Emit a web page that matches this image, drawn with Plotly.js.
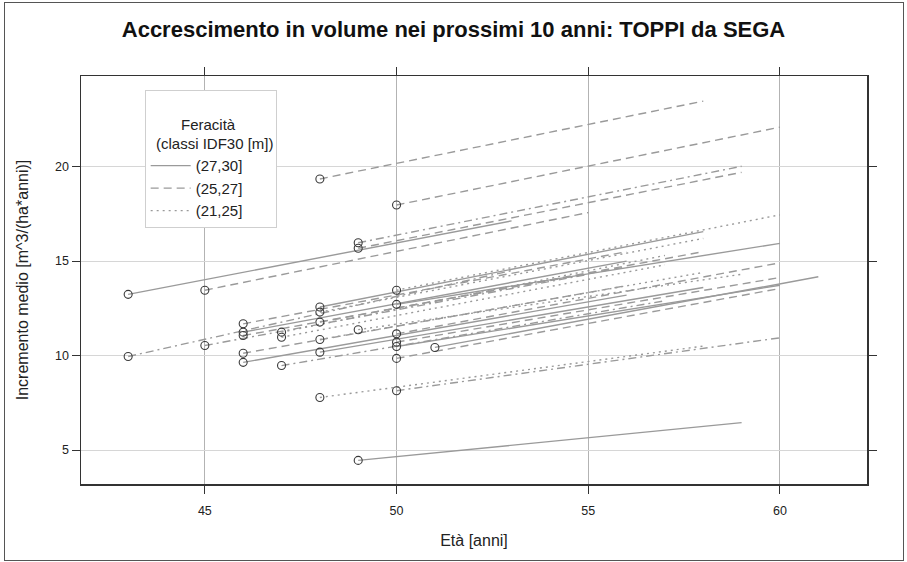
<!DOCTYPE html>
<html>
<head>
<meta charset="utf-8">
<script src="https://cdn.plot.ly/plotly-3.0.1.min.js"></script>
<style>
  html, body { margin: 0; padding: 0; background: #fff; }
  #wrap { position: relative; width: 907px; height: 562px; }
  #chart { width: 907px; height: 562px; }
  #frame { position: absolute; left: 4px; top: 2px; width: 898px; height: 557px;
           border: 1px solid #555; pointer-events: none; }
</style>
</head>
<body>
<div id="wrap"><div id="chart"></div><div id="frame"></div></div>
<script>
// Età all'inizio e alla fine del periodo, incremento medio iniziale e finale
const eta0 = [43, 45, 48, 50, 49, 49, 49, 43, 45, 46, 46, 46, 46, 46, 47, 47, 47, 48, 48, 48, 48, 48, 48, 49, 50, 50, 50, 50, 50, 50, 50, 51];
const inc0 = [13.24, 13.46, 19.35, 17.97, 15.97, 15.68, 4.45, 9.95, 10.53, 11.68, 11.24, 11.06, 10.12, 9.64, 11.24, 10.97, 9.47, 12.57, 12.30, 11.77, 10.85, 10.18, 7.78, 11.37, 13.46, 12.71, 11.15, 10.71, 10.48, 9.85, 8.14, 10.43];
const eta1 = [53, 55, 58, 60, 59, 59, 59, 53, 55, 56, 56, 56, 56, 56, 57, 57, 57, 58, 58, 58, 58, 58, 58, 59, 60, 60, 60, 60, 60, 60, 60, 61];
const inc1 = [17.13, 17.57, 23.47, 22.09, 20.02, 19.70, 6.45, 14.5, 14.3, 15.5, 15.0, 14.7, 13.7, 13.2, 15.3, 14.8, 12.9, 16.56, 16.2, 15.5, 14.4, 13.6, 10.5, 14.3, 17.45, 15.94, 14.91, 14.13, 13.72, 13.55, 10.94, 14.17];
// classe di feracità (IDF30); "mix" = tratti sovrapposti
const classe = ["(27,30]", "(25,27]", "(25,27]", "(25,27]", "mix", "(25,27]", "(27,30]", "mix", "mix", "(25,27]", "(27,30]", "(25,27]", "(25,27]", "(27,30]", "(21,25]", "(21,25]", "mix", "(27,30]", "(21,25]", "(25,27]", "(21,25]", "(27,30]", "(21,25]", "(21,25]", "(21,25]", "(27,30]", "(25,27]", "(25,27]", "(27,30]", "(25,27]", "mix", "(27,30]"];
const classiLegenda = ["(27,30]", "(25,27]", "(21,25]"];

const dashOf = {"(27,30]": "solid", "(25,27]": "8px,5px", "(21,25]": "2px,4px", "mix": "8px,4px,2px,4px"};
const lineColor = "#9a9a9a";

function segTrace(cl, show) {
  const x = [], y = [];
  for (let i = 0; i < eta0.length; i++) {
    if (classe[i] !== cl) continue;
    x.push(eta0[i], eta1[i], null);
    y.push(inc0[i], inc1[i], null);
  }
  return {
    type: "scatter", mode: "lines", x: x, y: y, name: cl,
    showlegend: show, connectgaps: false, hoverinfo: "skip",
    line: {color: lineColor, width: 1.4, dash: dashOf[cl]}
  };
}

const traces = [];
traces.push(segTrace("mix", false));
classiLegenda.forEach(c => traces.push(segTrace(c, true)));
traces.push({
  type: "scatter", mode: "markers", x: eta0, y: inc0, showlegend: false,
  marker: {symbol: "circle-open", size: 8, color: "#3a3a3a", line: {width: 1.1, color: "#3a3a3a"}}
});

const font = "Liberation Sans, Arial, Helvetica, sans-serif";
const layout = {
  width: 907, height: 562,
  margin: {l: 81, r: 40, t: 76, b: 78},
  paper_bgcolor: "#fff", plot_bgcolor: "#fff",
  font: {family: font, color: "#222", size: 13},
  title: {
    text: "<b>Accrescimento in volume nei prossimi 10 anni: TOPPI da SEGA</b>",
    font: {family: font, size: 22, color: "#111"},
    x: 0.5, xref: "container", xanchor: "center",
    y: 1 - 29 / 562, yref: "container", yanchor: "middle"
  },
  xaxis: {
    range: [41.77, 62.27], tickvals: [45, 50, 55, 60], ticktext: ["45", "50", "55", "60"],
    ticks: "outside", ticklen: 8, tickcolor: "#333", tickwidth: 1,
    showline: true, linecolor: "#333", linewidth: 1.5, mirror: "allticks",
    showgrid: true, gridcolor: "#b3b3b3", gridwidth: 1, zeroline: false,
    tickfont: {size: 12.5, color: "#222"}, ticklabelstandoff: 6,
    title: {text: "Età [anni]", font: {size: 16, color: "#222"}, standoff: 18}
  },
  yaxis: {
    range: [3.2, 24.8], tickvals: [5, 10, 15, 20], ticktext: ["5", "10", "15", "20"],
    ticks: "outside", ticklen: 8, tickcolor: "#333", tickwidth: 1,
    showline: true, linecolor: "#333", linewidth: 1.5, mirror: "allticks",
    showgrid: true, gridcolor: "#d6d6d6", gridwidth: 1, zeroline: false,
    tickfont: {size: 12.5, color: "#222"},
    title: {text: "Incremento medio [m^3/(ha*anni)]", font: {size: 16, color: "#222"}, standoff: 22}
  },
  legend: {
    x: 0.081, y: 0.966, xanchor: "left", yanchor: "top",
    bgcolor: "#fff", bordercolor: "#cfcfcf", borderwidth: 1,
    font: {size: 15, color: "#222"},
    title: {text: " <br>        Feracità<br>  (classi IDF30 [m])", side: "top", font: {size: 15, color: "#222"}},
    traceorder: "normal", itemwidth: 40, tracegroupgap: 0
  }
};

Plotly.newPlot("chart", traces, layout, {displayModeBar: false, staticPlot: true});
</script>
</body>
</html>
